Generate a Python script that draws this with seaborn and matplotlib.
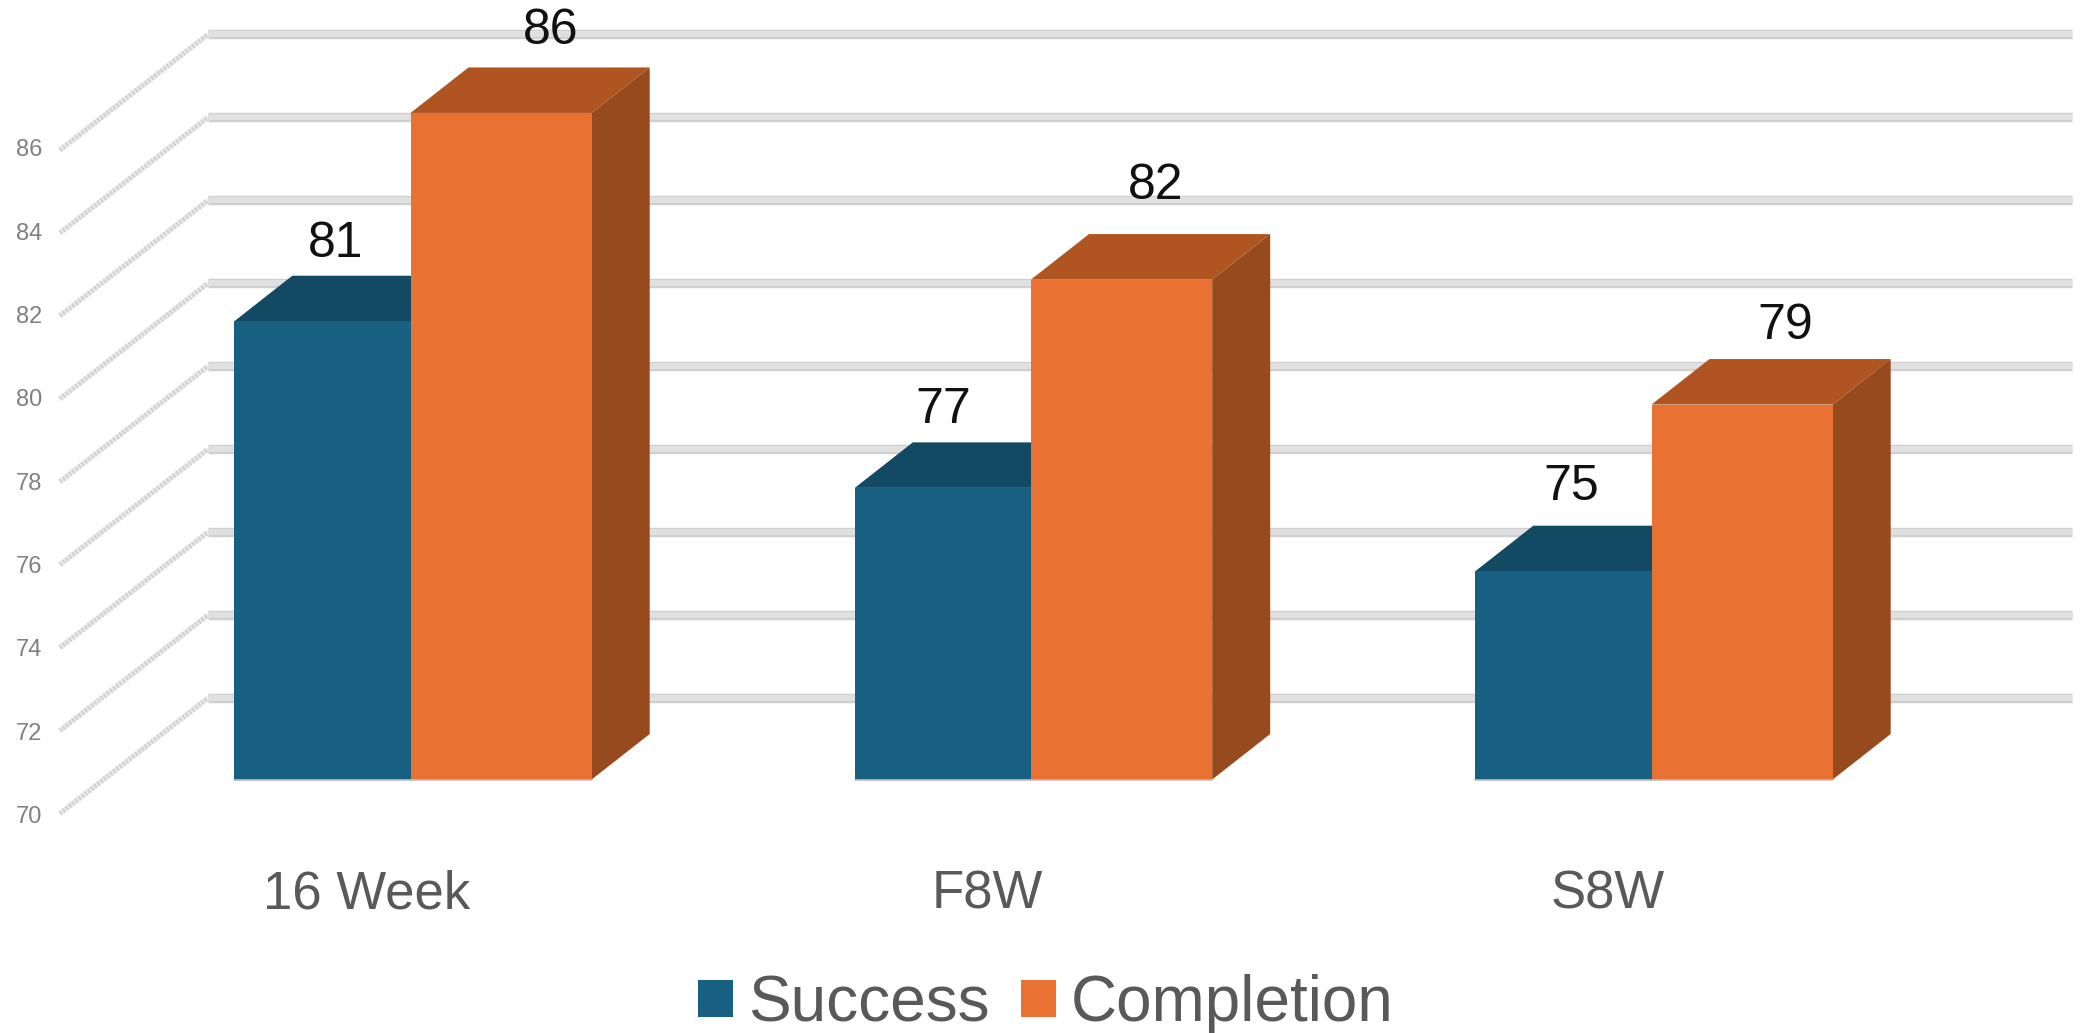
import matplotlib
matplotlib.use("Agg")
import matplotlib.pyplot as plt
import pandas as pd
import seaborn as sns
from matplotlib.patches import Patch, Polygon
from matplotlib.transforms import Affine2D

# --- data ---
periods = ["16 Week", "F8W", "S8W"]
success = [81, 77, 75]
completion = [86, 82, 79]
metrics = ["Success", "Completion"]
y_ticks = [70, 72, 74, 76, 78, 80, 82, 84, 86]

# --- style ---
W, H = 2082, 1033
BLUE, ORANGE = "#176082", "#E97132"
FACES = {BLUE: ("#124A64", "#0F3F55"), ORANGE: ("#B05522", "#964A1E")}
AX_L, AX_R, AX_BOTTOM = 60, 2072, 779.5
PX_X = 620.5
PX_Y = 41.66
BAR_DX, BAR_DY = 58 / PX_X, 45.5 / PX_Y
WALL_FRAC = (208 - AX_L) / (AX_R - AX_L)
WALL_SCALE = 0.9955
BACK_SHIFT, FRONT_SHIFT = 81.5 / PX_Y, -34 / PX_Y
SPLIT = 2.5 / PX_X
label_offsets = [(13, 77), (0, 78), (8, 84), (50, 82), (34, 94), (43, 79)]

sns.set_theme(style="white")
plt.rcParams["font.family"] = ["Liberation Sans", "DejaVu Sans"]

df = pd.DataFrame({
    "Period": periods * 2,
    "Metric": [metrics[0]] * 3 + [metrics[1]] * 3,
    "Rate": success + completion,
})

fig = plt.figure(figsize=(W / 100, H / 100), dpi=100, facecolor="white")
ax = fig.add_axes([AX_L / W, 1 - AX_BOTTOM / H, (AX_R - AX_L) / W, AX_BOTTOM / H])
sns.barplot(data=df, x="Period", y="Rate", hue="Metric", hue_order=metrics,
            palette=[BLUE, ORANGE], saturation=1, width=0.576, gap=0,
            edgecolor="none", linewidth=0, legend=False, ax=ax, zorder=3)
ax.set_xlim((AX_L - 413) / PX_X, (AX_R - 413) / PX_X)
ax.set_ylim(70, 70 + AX_BOTTOM / PX_Y)
ax.set_xlabel("")
ax.set_ylabel("")
for s in ax.spines.values():
    s.set_visible(False)
ax.patch.set_alpha(0)

# back wall and side wall lines
ytr = ax.get_yaxis_transform()
for v in y_ticks:
    vs = 70 + (v - 70) * WALL_SCALE
    yb = vs + BACK_SHIFT
    ax.plot([WALL_FRAC, 1], [yb, yb], transform=ytr, color="#cfcfcf", lw=6.8,
            solid_capstyle="butt", zorder=1, clip_on=False)
    ax.plot([WALL_FRAC, 1], [yb, yb], transform=ytr, color="#e0e0e0", lw=4.4,
            solid_capstyle="butt", zorder=1.1, clip_on=False)
    xs, ys = [0, WALL_FRAC], [vs + FRONT_SHIFT, yb]
    ax.plot(xs, ys, transform=ytr, color="#e8e8e8", lw=3.6, zorder=1,
            solid_capstyle="butt", clip_on=False)
    ax.plot(xs, ys, transform=ytr, color="#d0d0d0", lw=3.6, zorder=1.1,
            dashes=(0.35, 0.45), clip_on=False)

# extruded faces built from the bars seaborn drew
bars = [p for p in ax.patches]
for i, p in enumerate(bars):
    # the orange front is a touch wider than the blue one in the reference
    if i < 3:
        p.set_width(p.get_width() - SPLIT)
    else:
        p.set_x(p.get_x() - SPLIT)
        p.set_width(p.get_width() + SPLIT)
    x0, x1, top = p.get_x(), p.get_x() + p.get_width(), p.get_height()
    col = BLUE if i < 3 else ORANGE
    z = 3 if i < 3 else 4
    p.set_zorder(3.5 if i < 3 else 5)
    top_c, side_c = FACES[col]
    ax.add_patch(Polygon([(x0, top), (x1, top), (x1 + BAR_DX, top + BAR_DY), (x0 + BAR_DX, top + BAR_DY)],
                         fc=top_c, ec="none", zorder=z))
    ax.add_patch(Polygon([(x1, 70), (x1 + BAR_DX, 70 + BAR_DY), (x1 + BAR_DX, top + BAR_DY), (x1, top)],
                         fc=side_c, ec="none", zorder=z))
    ax.plot([x0, x1], [70, 70], color="#bdbdbd", lw=1.2, zorder=6, clip_on=False)
    dx, dy = label_offsets[i]
    ax.annotate(f"{top:.0f}", xy=((x0 + x1) / 2, top), xytext=(dx, dy),
                textcoords="offset pixels", ha="center", va="center",
                fontsize=36, color="#111111", zorder=7, annotation_clip=False)

# tick labels
ax.set_yticks(y_ticks, [str(v) for v in y_ticks])
ax.tick_params(axis="y", length=0, pad=13, labelsize=17, labelcolor="#808080")
ax.tick_params(axis="x", length=0, pad=65, labelsize=38, labelcolor="#595959")
for t in ax.yaxis.get_major_ticks():
    t.label1.set_transform(t.label1.get_transform() + Affine2D().translate(0, -35))
for t in ax.xaxis.get_major_ticks():
    t.label1.set_transform(t.label1.get_transform() + Affine2D().translate(-46, 0))

handles = [Patch(fc=BLUE, ec="none"), Patch(fc=ORANGE, ec="none")]
leg = ax.legend(handles, metrics, loc="center", ncol=2, frameon=False,
                bbox_to_anchor=(1046 / W, 1 - 1004 / H), bbox_transform=fig.transFigure,
                fontsize=46, labelcolor="#595959", handlelength=0.54, handleheight=0.5,
                handletextpad=0.24, columnspacing=0.5, borderpad=0, borderaxespad=0)

fig.savefig("out.png", dpi=100)
